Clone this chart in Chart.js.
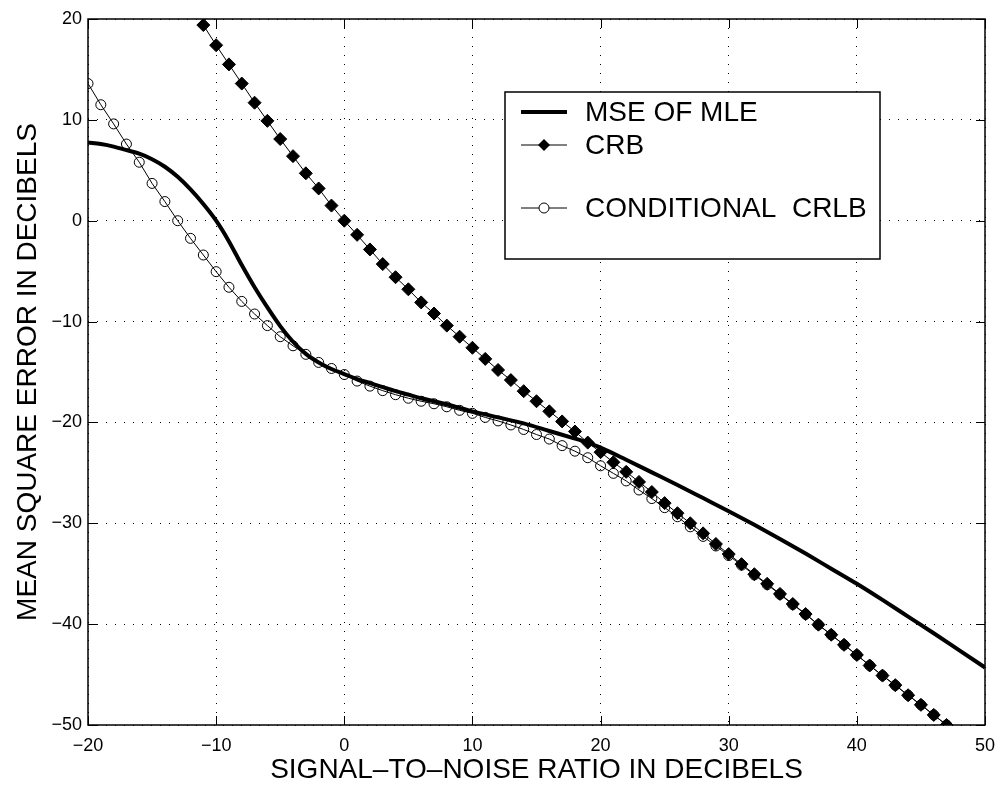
<!DOCTYPE html>
<html>
<head>
<meta charset="utf-8">
<script src="https://cdn.jsdelivr.net/npm/chart.js@4"></script>
<style>
  html, body { margin: 0; padding: 0; background: #fff; }
  #wrap { width: 1000px; height: 787px; }
</style>
</head>
<body>
<div id="wrap"><canvas id="mseChart" width="1000" height="787"></canvas></div>
<script>
// SNR axis values (dB) for each curve
var snrMse = [-20, -19, -18, -17, -16, -15, -14, -13, -12, -11, -10, -9, -8, -7, -6, -5, -4, -3, -2, -1,
  0, 1, 2, 3, 4, 5, 6, 7, 8, 9, 10, 12, 14, 16, 18, 19, 20, 22, 24, 26, 28, 30, 32, 34, 36, 38, 40, 42, 44, 46, 48, 50];
var mseValues = [7.75, 7.6, 7.35, 7.0, 6.65, 6.1, 5.35, 4.35, 3.1, 1.65, 0.0, -2.05, -4.4, -6.6, -8.6, -10.45, -12.0, -13.2, -14.05, -14.7,
  -15.2, -15.7, -16.1, -16.5, -16.9, -17.25, -17.6, -17.9, -18.2, -18.55, -18.9, -19.5, -20.1, -20.85, -21.6, -22.0, -22.5, -23.7, -24.95, -26.2,
  -27.5, -28.8, -30.15, -31.55, -33.0, -34.5, -36.0, -37.6, -39.25, -40.9, -42.6, -44.3];

var snrCrb = [-11, -10, -9, -8, -7, -6, -5, -4, -3, -2, -1, 0, 1, 2, 3, 4, 5, 6, 7, 8, 9, 10, 11, 12, 13, 14, 15, 16, 17, 18,
  19, 20, 21, 22, 23, 24, 25, 26, 27, 28, 29, 30, 31, 32, 33, 34, 35, 36, 37, 38, 39, 40, 41, 42, 43, 44, 45, 46, 47];
var crbValues = [19.4, 17.4, 15.5, 13.6, 11.7, 9.9, 8.1, 6.4, 4.7, 3.2, 1.5, 0.0, -1.4, -2.85, -4.3, -5.6, -6.8, -8.1, -9.2, -10.4,
  -11.5, -12.6, -13.7, -14.8, -15.8, -16.9, -17.9, -18.9, -19.9, -20.9, -22.0, -22.95, -23.95, -24.9, -25.9, -26.9, -28.0, -29.0, -30.0, -31.0,
  -32.05, -33.05, -34.05, -35.05, -36.0, -37.0, -38.0, -39.0, -40.05, -41.05, -42.05, -43.05, -44.1, -45.1, -46.05, -47.05, -48.0, -49.0, -50.0];

var snrCond = [-20, -19, -18, -17, -16, -15, -14, -13, -12, -11, -10, -9, -8, -7, -6, -5, -4, -3, -2, -1,
  0, 1, 2, 3, 4, 5, 6, 7, 8, 9, 10, 11, 12, 13, 14, 15, 16, 17, 18, 19,
  20, 21, 22, 23, 24, 25, 26, 27, 28, 29, 30, 31, 32, 33, 34, 35, 36, 37, 38, 39,
  40, 41, 42, 43, 44, 45, 46, 47];
var condValues = [13.6, 11.5, 9.6, 7.6, 5.8, 3.7, 1.9, 0.0, -1.75, -3.4, -5.05, -6.6, -8.0, -9.25, -10.4, -11.5, -12.4, -13.25, -14.05, -14.65,
  -15.25, -15.9, -16.4, -16.85, -17.25, -17.6, -17.9, -18.15, -18.45, -18.8, -19.1, -19.5, -19.85, -20.25, -20.7, -21.2, -21.65, -22.3, -22.85, -23.5,
  -24.3, -25.05, -25.8, -26.7, -27.55, -28.45, -29.35, -30.35, -31.3, -32.25, -33.2, -34.15, -35.12, -36.08, -37.05, -38.05, -39.02, -40.07, -41.06, -42.06,
  -43.06, -44.1, -45.1, -46.06, -47.05, -48.0, -49.0, -50.0];

var xTicks = [-20, -10, 0, 10, 20, 30, 40, 50];
var yTicks = [-50, -40, -30, -20, -10, 0, 10, 20];
var legendLabels = ['MSE OF MLE', 'CRB', 'CONDITIONAL  CRLB'];

var fontFamily = "Arial, 'Liberation Sans', Helvetica, sans-serif";

function pairs(xs, ys) {
  return xs.map(function (x, i) { return { x: x, y: ys[i] }; });
}
function minusSign(v) {
  return String(v).replace('-', '\u2212');
}

// box, inward ticks and the boxed legend
var framePlugin = {
  id: 'framePlugin',
  afterDraw: function (chart) {
    var ctx = chart.ctx;
    var a = chart.chartArea;
    var xs = chart.scales.x, ys = chart.scales.y;
    ctx.save();
    ctx.strokeStyle = '#000';
    ctx.lineWidth = 1.5;
    ctx.strokeRect(a.left, a.top, a.right - a.left, a.bottom - a.top);
    ctx.lineWidth = 1;
    ctx.beginPath();
    xTicks.forEach(function (v) {
      var px = Math.round(xs.getPixelForValue(v)) + 0.5;
      ctx.moveTo(px, a.bottom); ctx.lineTo(px, a.bottom - 9);
      ctx.moveTo(px, a.top); ctx.lineTo(px, a.top + 9);
    });
    yTicks.forEach(function (v) {
      var py = Math.round(ys.getPixelForValue(v)) + 0.5;
      ctx.moveTo(a.left, py); ctx.lineTo(a.left + 9, py);
      ctx.moveTo(a.right, py); ctx.lineTo(a.right - 9, py);
    });
    ctx.stroke();

    // legend
    var lx = 505, ly = 92, lw = 375, lh = 167;
    ctx.fillStyle = '#fff';
    ctx.fillRect(lx, ly, lw, lh);
    ctx.lineWidth = 1.5;
    ctx.strokeRect(lx, ly, lw, lh);
    var rows = [112, 145, 208];
    ctx.font = '28px ' + fontFamily;
    ctx.textBaseline = 'middle';
    ctx.fillStyle = '#000';
    rows.forEach(function (ry, i) {
      ctx.beginPath();
      ctx.lineWidth = i === 0 ? 4 : 1;
      ctx.strokeStyle = '#000';
      ctx.moveTo(521, ry); ctx.lineTo(567, ry);
      ctx.stroke();
      if (i === 1) {
        ctx.beginPath();
        ctx.moveTo(544 - 6, ry); ctx.lineTo(544, ry - 6); ctx.lineTo(544 + 6, ry); ctx.lineTo(544, ry + 6);
        ctx.closePath();
        ctx.fill();
      } else if (i === 2) {
        ctx.beginPath();
        ctx.arc(544, ry, 5, 0, Math.PI * 2);
        ctx.fillStyle = '#fff';
        ctx.fill();
        ctx.stroke();
        ctx.fillStyle = '#000';
      }
      ctx.fillText(legendLabels[i], 585, ry + 1);
    });
    ctx.restore();
  }
};

var ctx = document.getElementById('mseChart').getContext('2d');
var chart = new Chart(ctx, {
  type: 'line',
  data: {
    datasets: [{
      label: 'CRB',
      data: pairs(snrCrb, crbValues),
      borderColor: '#000',
      borderWidth: 1,
      backgroundColor: '#000',
      pointStyle: 'rectRot',
      pointRadius: 6.5,
      pointBorderWidth: 1,
      pointBackgroundColor: '#000',
      pointBorderColor: '#000'
    }, {
      label: 'MSE OF MLE',
      data: pairs(snrMse, mseValues),
      borderColor: '#000',
      borderWidth: 4,
      pointRadius: 0,
      cubicInterpolationMode: 'monotone'
    }, {
      label: 'CONDITIONAL CRLB',
      data: pairs(snrCond, condValues),
      borderColor: '#000',
      borderWidth: 1,
      pointStyle: 'circle',
      pointRadius: 5,
      pointBorderWidth: 1,
      pointBackgroundColor: 'rgba(0,0,0,0)',
      pointBorderColor: '#000'
    }]
  },
  options: {
    responsive: false,
    animation: false,
    layout: { padding: { left: 0, right: 15, top: 19, bottom: 0 } },
    plugins: {
      legend: { display: false },
      tooltip: { enabled: false }
    },
    scales: {
      x: {
        type: 'linear',
        min: -20, max: 50,
        afterBuildTicks: function (s) { s.ticks = xTicks.map(function (v) { return { value: v }; }); },
        afterFit: function (s) { s.height = 62; s.paddingLeft = 0; s.paddingRight = 0; },
        ticks: {
          color: '#000',
          font: { family: fontFamily, size: 18 },
          padding: 10,
          maxRotation: 0,
          callback: function (v) { return minusSign(v); }
        },
        grid: { color: '#000', lineWidth: 1, drawTicks: false },
        border: { display: false, dash: [1, 8] },
        title: {
          display: true,
          text: 'SIGNAL\u2013TO\u2013NOISE RATIO IN DECIBELS',
          color: '#000',
          font: { family: fontFamily, size: 28 },
          padding: { top: 0, bottom: 0 }
        }
      },
      y: {
        type: 'linear',
        min: -50, max: 20,
        afterBuildTicks: function (s) { s.ticks = yTicks.map(function (v) { return { value: v }; }); },
        afterFit: function (s) { s.width = 88; s.paddingTop = 0; s.paddingBottom = 0; },
        ticks: {
          color: '#000',
          font: { family: fontFamily, size: 18 },
          padding: 6,
          callback: function (v) { return minusSign(v); }
        },
        grid: { color: '#000', lineWidth: 1, drawTicks: false },
        border: { display: false, dash: [1, 8] },
        title: {
          display: true,
          text: 'MEAN SQUARE ERROR IN DECIBELS',
          color: '#000',
          font: { family: fontFamily, size: 28 },
          padding: { top: 11, bottom: 0 }
        }
      }
    }
  },
  plugins: [framePlugin]
});
</script>
</body>
</html>
